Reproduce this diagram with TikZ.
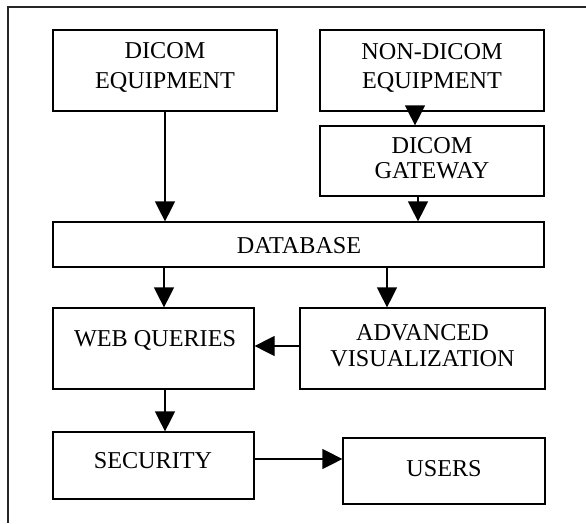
\documentclass[tikz,border=0pt]{standalone}
\usepackage{fontspec}
\setmainfont{Liberation Serif}
\usetikzlibrary{arrows.meta}
\begin{document}
\begin{tikzpicture}[x=1pt,y=-1pt,
  box/.style={draw, line width=1.2pt, inner sep=0pt, rectangle},
  txt/.style={inner sep=0pt, anchor=base, font=\fontsize{24.2}{26}\selectfont},
  arr/.style={line width=1.2pt, -{Triangle[width=20pt,length=20pt]}}]
\useasboundingbox (0,0) rectangle (586,523);
% frame
\draw[line width=1.4pt, black!85] (586,7) -- (8,7) -- (8,523);
% boxes
\node[box, minimum width=224pt, minimum height=81pt] (DE) at (165,70.5) {};
\node[box, minimum width=224pt, minimum height=81pt] (ND) at (432,70.5) {};
\node[box, minimum width=224pt, minimum height=70pt] (GW) at (432,161) {};
\node[box, minimum width=491pt, minimum height=45pt] (DB) at (298.5,244.5) {};
\node[box, minimum width=201pt, minimum height=81pt] (WQ) at (153.5,348.5) {};
\node[box, minimum width=245pt, minimum height=81pt] (AV) at (422.5,348.5) {};
\node[box, minimum width=201pt, minimum height=67pt] (SE) at (153.5,465.5) {};
\node[box, minimum width=202pt, minimum height=66pt] (US) at (444,471) {};
% texts
\node[txt] (DEa) at (165,58.7) {DICOM};
\node[txt] (DEb) at (165,88.7) {EQUIPMENT};
\node[txt] (NDa) at (432,59.7) {NON-DICOM};
\node[txt] (NDb) at (432,88.3) {EQUIPMENT};
\node[txt] (GWa) at (432,153) {DICOM};
\node[txt] (GWb) at (432,178) {GATEWAY};
\node[txt] (DBa) at (299,253) {DATABASE};
\node[txt] (WQa) at (155,346) {WEB QUERIES};
\node[txt] (AVa) at (422.5,340) {ADVANCED};
\node[txt] (AVb) at (422.5,366.7) {VISUALIZATION};
\node[txt] (SEa) at (153,468) {SECURITY};
\node[txt] (USa) at (444,476) {USERS};
% connectors
\draw[arr] (DE.south) -- (DE.south |- DB.north);
\draw[arr] ([xshift=-17pt]ND.south) -- ([xshift=-17pt]ND.south |- GW.north);
\draw[arr] ([xshift=-14pt]GW.south) -- ([xshift=-14pt]GW.south |- DB.north);
\draw[arr] ([xshift=10.5pt]WQ.north |- DB.south) -- ([xshift=10.5pt]WQ.north);
\draw[arr] ([xshift=-35.5pt]AV.north |- DB.south) -- ([xshift=-35.5pt]AV.north);
\draw[arr] ([yshift=2.5pt]AV.west) -- ([yshift=2.5pt]AV.west -| WQ.east);
\draw[arr] ([xshift=11.5pt]WQ.south) -- ([xshift=11.5pt]WQ.south |- SE.north);
\draw[arr] ([yshift=6.5pt]SE.east) -- ([yshift=6.5pt]SE.east -| US.west);
\end{tikzpicture}
\end{document}
